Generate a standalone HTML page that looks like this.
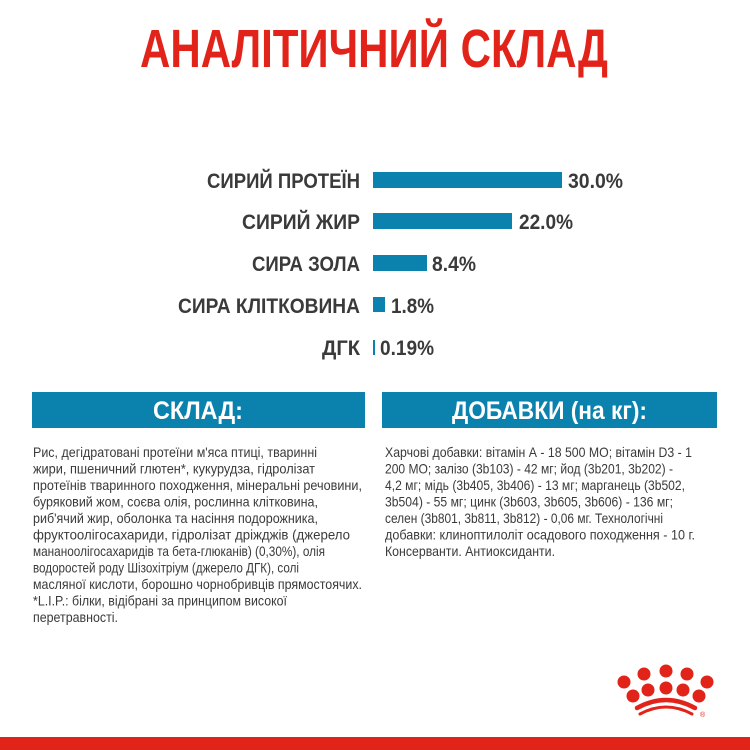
<!DOCTYPE html>
<html><head><meta charset="utf-8"><style>
html,body{margin:0;padding:0;background:#fff;}
svg{display:block;}
</style></head><body>
<svg width="750" height="750" viewBox="0 0 750 750" xmlns="http://www.w3.org/2000/svg" font-family="'Liberation Sans Narrow','Liberation Sans',sans-serif">
<rect width="750" height="750" fill="#fff"/>
<text x="140" y="67" font-size="54" font-weight="bold" fill="#e2231a" textLength="468" lengthAdjust="spacingAndGlyphs">АНАЛІТИЧНИЙ СКЛАД</text>
<g font-size="21" font-weight="bold" fill="#3a3a3a">
<text x="207" y="188" textLength="153" lengthAdjust="spacingAndGlyphs">СИРИЙ ПРОТЕЇН</text>
<text x="242" y="229" textLength="118" lengthAdjust="spacingAndGlyphs">СИРИЙ ЖИР</text>
<text x="252" y="271" textLength="108" lengthAdjust="spacingAndGlyphs">СИРА ЗОЛА</text>
<text x="178" y="313" textLength="182" lengthAdjust="spacingAndGlyphs">СИРА КЛІТКОВИНА</text>
<text x="322" y="355" textLength="38" lengthAdjust="spacingAndGlyphs">ДГК</text>
<text x="568" y="188" textLength="55" lengthAdjust="spacingAndGlyphs">30.0%</text>
<text x="519" y="229" textLength="54" lengthAdjust="spacingAndGlyphs">22.0%</text>
<text x="432" y="271" textLength="44" lengthAdjust="spacingAndGlyphs">8.4%</text>
<text x="391" y="313" textLength="43" lengthAdjust="spacingAndGlyphs">1.8%</text>
<text x="380" y="355" textLength="54" lengthAdjust="spacingAndGlyphs">0.19%</text>
</g>
<g fill="#0a82ad">
<rect x="373" y="172" width="189" height="16"/>
<rect x="373" y="213" width="139" height="16"/>
<rect x="373" y="255" width="54" height="16"/>
<rect x="373" y="297" width="12" height="15"/>
<rect x="373" y="340" width="2" height="15"/>
</g>
<rect x="32" y="392" width="333" height="36" fill="#0a82ad"/>
<rect x="382" y="392" width="335" height="36" fill="#0a82ad"/>
<g font-size="25" font-weight="bold" fill="#fff">
<text x="153" y="419" textLength="90" lengthAdjust="spacingAndGlyphs">СКЛАД:</text>
<text x="452" y="419" textLength="195" lengthAdjust="spacingAndGlyphs">ДОБАВКИ (на кг):</text>
</g>
<g font-size="14" fill="#3a3a3a">
<text x="33" y="457" textLength="284" lengthAdjust="spacingAndGlyphs">Рис, дегідратовані протеїни м'яса птиці, тваринні</text>
<text x="33" y="473.5" textLength="282" lengthAdjust="spacingAndGlyphs">жири, пшеничний глютен*, кукурудза, гідролізат</text>
<text x="33" y="490" textLength="329" lengthAdjust="spacingAndGlyphs">протеїнів тваринного походження, мінеральні речовини,</text>
<text x="33" y="506.5" textLength="285" lengthAdjust="spacingAndGlyphs">буряковий жом, соєва олія, рослинна клітковина,</text>
<text x="33" y="523" textLength="285" lengthAdjust="spacingAndGlyphs">риб'ячий жир, оболонка та насіння подорожника,</text>
<text x="33" y="539.5" textLength="317" lengthAdjust="spacingAndGlyphs">фруктоолігосахариди, гідролізат дріжджів (джерело</text>
<text x="33" y="556" textLength="292" lengthAdjust="spacingAndGlyphs">мананоолігосахаридів та бета-глюканів) (0,30%), олія</text>
<text x="33" y="572.5" textLength="266" lengthAdjust="spacingAndGlyphs">водоростей роду Шізохітріум (джерело ДГК), солі</text>
<text x="33" y="589" textLength="329" lengthAdjust="spacingAndGlyphs">масляної кислоти, борошно чорнобривців прямостоячих.</text>
<text x="33" y="605.5" textLength="254" lengthAdjust="spacingAndGlyphs">*L.I.P.: білки, відібрані за принципом високої</text>
<text x="33" y="622" textLength="85" lengthAdjust="spacingAndGlyphs">перетравності.</text>
<text x="385" y="457" textLength="307" lengthAdjust="spacingAndGlyphs">Харчові добавки: вітамін А - 18 500 МО; вітамін D3 - 1</text>
<text x="385" y="473.5" textLength="288" lengthAdjust="spacingAndGlyphs">200 МО; залізо (3b103) - 42 мг; йод (3b201, 3b202) -</text>
<text x="385" y="490" textLength="300" lengthAdjust="spacingAndGlyphs">4,2 мг; мідь (3b405, 3b406) - 13 мг; марганець (3b502,</text>
<text x="385" y="506.5" textLength="288" lengthAdjust="spacingAndGlyphs">3b504) - 55 мг; цинк (3b603, 3b605, 3b606) - 136 мг;</text>
<text x="385" y="523" textLength="278" lengthAdjust="spacingAndGlyphs">селен (3b801, 3b811, 3b812) - 0,06 мг. Технологічні</text>
<text x="385" y="539.5" textLength="310" lengthAdjust="spacingAndGlyphs">добавки: клиноптилоліт осадового походження - 10 г.</text>
<text x="385" y="556" textLength="170" lengthAdjust="spacingAndGlyphs">Консерванти. Антиоксиданти.</text>
</g>
<g fill="#e2231a">
<circle cx="624" cy="682" r="6.5"/><circle cx="644" cy="674" r="6.5"/><circle cx="666" cy="671" r="6.5"/><circle cx="687" cy="674" r="6.5"/><circle cx="707" cy="682" r="6.5"/>
<circle cx="633" cy="696" r="6.5"/><circle cx="648" cy="690" r="6.5"/><circle cx="666" cy="688" r="6.5"/><circle cx="683" cy="690" r="6.5"/><circle cx="699" cy="696" r="6.5"/>
</g>
<g fill="none" stroke="#e2231a" stroke-linecap="round">
<path d="M637 708 Q666 692 695 708" stroke-width="4.5"/>
<path d="M640 714 Q666 700 692 714" stroke-width="3"/>
</g>
<text x="700" y="717" font-size="7" fill="#e2231a">®</text>
<rect x="0" y="737" width="750" height="13" fill="#e2231a"/>
</svg>
</body></html>
